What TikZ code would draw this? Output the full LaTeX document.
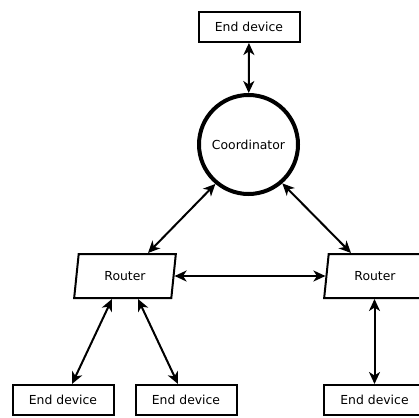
\documentclass[tikz,border=0pt]{standalone}
\usepackage{fontspec}
\setmainfont{DejaVu Sans}
\usetikzlibrary{arrows.meta,shapes.geometric}
\begin{document}
\begin{tikzpicture}
[x=1pt,y=-1pt,
  font=\fontsize{12.4}{14.8}\selectfont,
  deviceDecorate/.style={draw,line width=2pt,minimum width=101pt,
    minimum height=30pt,inner sep=0pt},
  routerDecorate/.style={draw,line width=2pt,trapezium,trapezium stretches,
    trapezium left angle=77.7,trapezium right angle=102.3,
    minimum width=102pt,minimum height=44pt,inner sep=0pt},
  coordDecorate/.style={draw,circle,line width=4pt,minimum size=99pt,
    inner sep=0pt},
  lineDecorate/.style={{Stealth[length=12pt,width=11pt,inset=3.5pt]}-%
    {Stealth[length=12pt,width=11pt,inset=3.5pt]},line width=2pt}]
\useasboundingbox (0,0) rectangle (419,417);
\clip (0,0) rectangle (419,417);
%% nodes
\node (coord) at (248.5,144.5) [coordDecorate] {Coordinator};
\foreach \nodename/\x in {lr/125, rr/375}
{
  \node (\nodename) at (\x,276) [routerDecorate] {Router};
}
\node (ted) at (249,27) [deviceDecorate] {End device};
\foreach \nodename/\x in {ed1/63, ed2/186, ed3/374.5}
{
  \node (\nodename) at (\x,400) [deviceDecorate] {End device};
}
%% links
\path
  (ted) edge[lineDecorate] (coord)
  (coord.230) edge[lineDecorate] ([xshift=23pt]lr.north)
  (coord.311) edge[lineDecorate] ([xshift=-24pt]rr.north)
  (lr.east) edge[lineDecorate] (rr.west)
  ([xshift=-13pt]lr.south) edge[lineDecorate] ([xshift=9pt]ed1.north)
  ([xshift=13pt]lr.south) edge[lineDecorate] ([xshift=-8pt]ed2.north)
  (ed3.north |- rr.south) edge[lineDecorate] (ed3.north);
\end{tikzpicture}
\end{document}
